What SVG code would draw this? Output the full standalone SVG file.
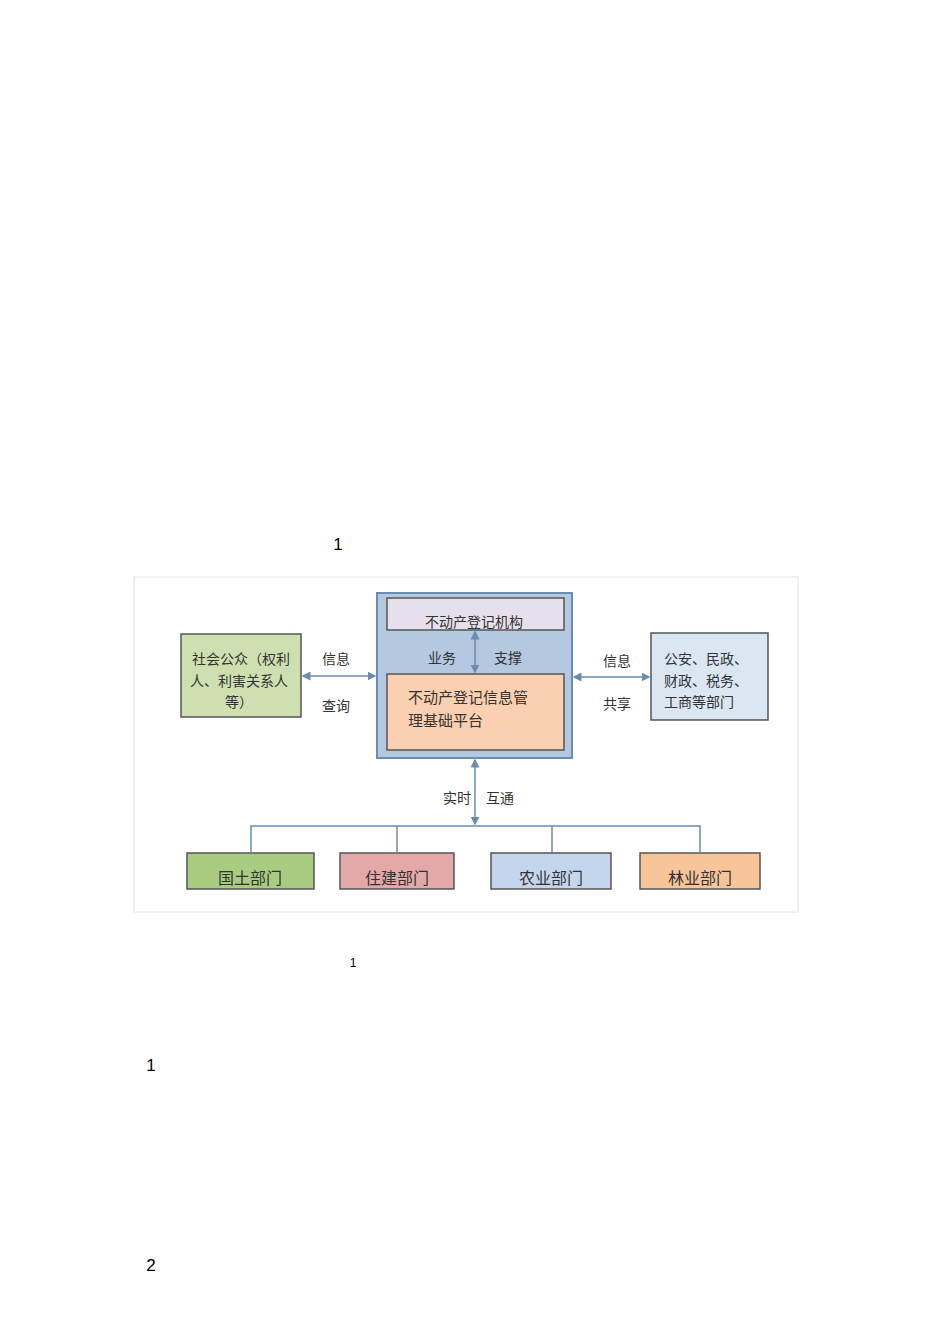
<svg xmlns="http://www.w3.org/2000/svg" width="950" height="1344" viewBox="0 0 950 1344">
<style>
text{font-family:"Noto Sans CJK SC","Liberation Serif",serif;fill:#333}
.b{stroke:#555;stroke-width:1.5}
.c{stroke:#6a8cb0;stroke-width:1.5;fill:none}
.n{font-family:"Liberation Sans",sans-serif;fill:#000}
</style>
<defs><marker id="a" markerWidth="6" markerHeight="6" refX="5" refY="3" orient="auto-start-reverse"><path d="M0,0L6,3L0,6z" fill="#6a8cb0"/></marker></defs>
<rect width="950" height="1344" fill="#fff"/>
<text class="n" x="338" y="550" font-size="17" text-anchor="middle">1</text>
<rect x="134" y="577" width="664" height="335" fill="#fff" stroke="#e4e4e4"/>
<g id="outer"><rect x="377" y="593" width="195" height="165" fill="#b4c8e0" stroke="#6a8cb0" stroke-width="2"/></g>
<g id="jigou"><rect x="387" y="598" width="177" height="32" fill="#e6e0ec" class="b"/><text x="474" y="627" font-size="14" text-anchor="middle">不动产登记机构</text></g>
<g id="platform"><rect x="387" y="674" width="177" height="76" fill="#fbd0b0" class="b"/><text x="408" y="703" font-size="15">不动产登记信息管</text><text x="408" y="726" font-size="15">理基础平台</text></g>
<g id="public"><rect x="181" y="634" width="120" height="83" fill="#cfe0b0" class="b"/><text x="241" y="664" font-size="14" text-anchor="middle">社会公众（权利</text><text x="239" y="686" font-size="14" text-anchor="middle">人、利害关系人</text><text x="239" y="707" font-size="14" text-anchor="middle">等）</text></g>
<g id="depts"><rect x="651" y="633" width="117" height="87" fill="#dae6f2" class="b"/><text x="664" y="664" font-size="14">公安、民政、</text><text x="664" y="686" font-size="14">财政、税务、</text><text x="664" y="707" font-size="14">工商等部门</text></g>
<g id="guotu"><rect x="187" y="853" width="127" height="36" fill="#a8cc80" class="b"/><text x="250" y="884" font-size="16" text-anchor="middle">国土部门</text></g>
<g id="zhujian"><rect x="340" y="853" width="114" height="36" fill="#e4a8a8" class="b"/><text x="397" y="884" font-size="16" text-anchor="middle">住建部门</text></g>
<g id="nongye"><rect x="491" y="853" width="120" height="36" fill="#c4d6ee" class="b"/><text x="551" y="884" font-size="16" text-anchor="middle">农业部门</text></g>
<g id="linye"><rect x="640" y="853" width="120" height="36" fill="#f8c49a" class="b"/><text x="700" y="884" font-size="16" text-anchor="middle">林业部门</text></g>
<g id="connectors">
<line x1="475" y1="632" x2="475" y2="672" class="c" marker-start="url(#a)" marker-end="url(#a)"/>
<line x1="303" y1="676" x2="375" y2="676" class="c" marker-start="url(#a)" marker-end="url(#a)"/>
<line x1="574" y1="677" x2="649" y2="677" class="c" marker-start="url(#a)" marker-end="url(#a)"/>
<line x1="475" y1="760" x2="475" y2="824" class="c" marker-start="url(#a)" marker-end="url(#a)"/>
<path d="M251,853V826H700V853M397,826V853M552,826V853" class="c"/>
</g>
<g font-size="14">
<text x="322" y="664">信息</text><text x="322" y="711">查询</text>
<text x="428" y="663">业务</text><text x="494" y="663">支撑</text>
<text x="603" y="666">信息</text><text x="603" y="709">共享</text>
<text x="443" y="803">实时</text><text x="486" y="803">互通</text>
</g>
<text class="n" x="353" y="967" font-size="12" text-anchor="middle">1</text>
<text class="n" x="151" y="1071" font-size="17" text-anchor="middle">1</text>
<text class="n" x="151" y="1271" font-size="17" text-anchor="middle">2</text>
</svg>
